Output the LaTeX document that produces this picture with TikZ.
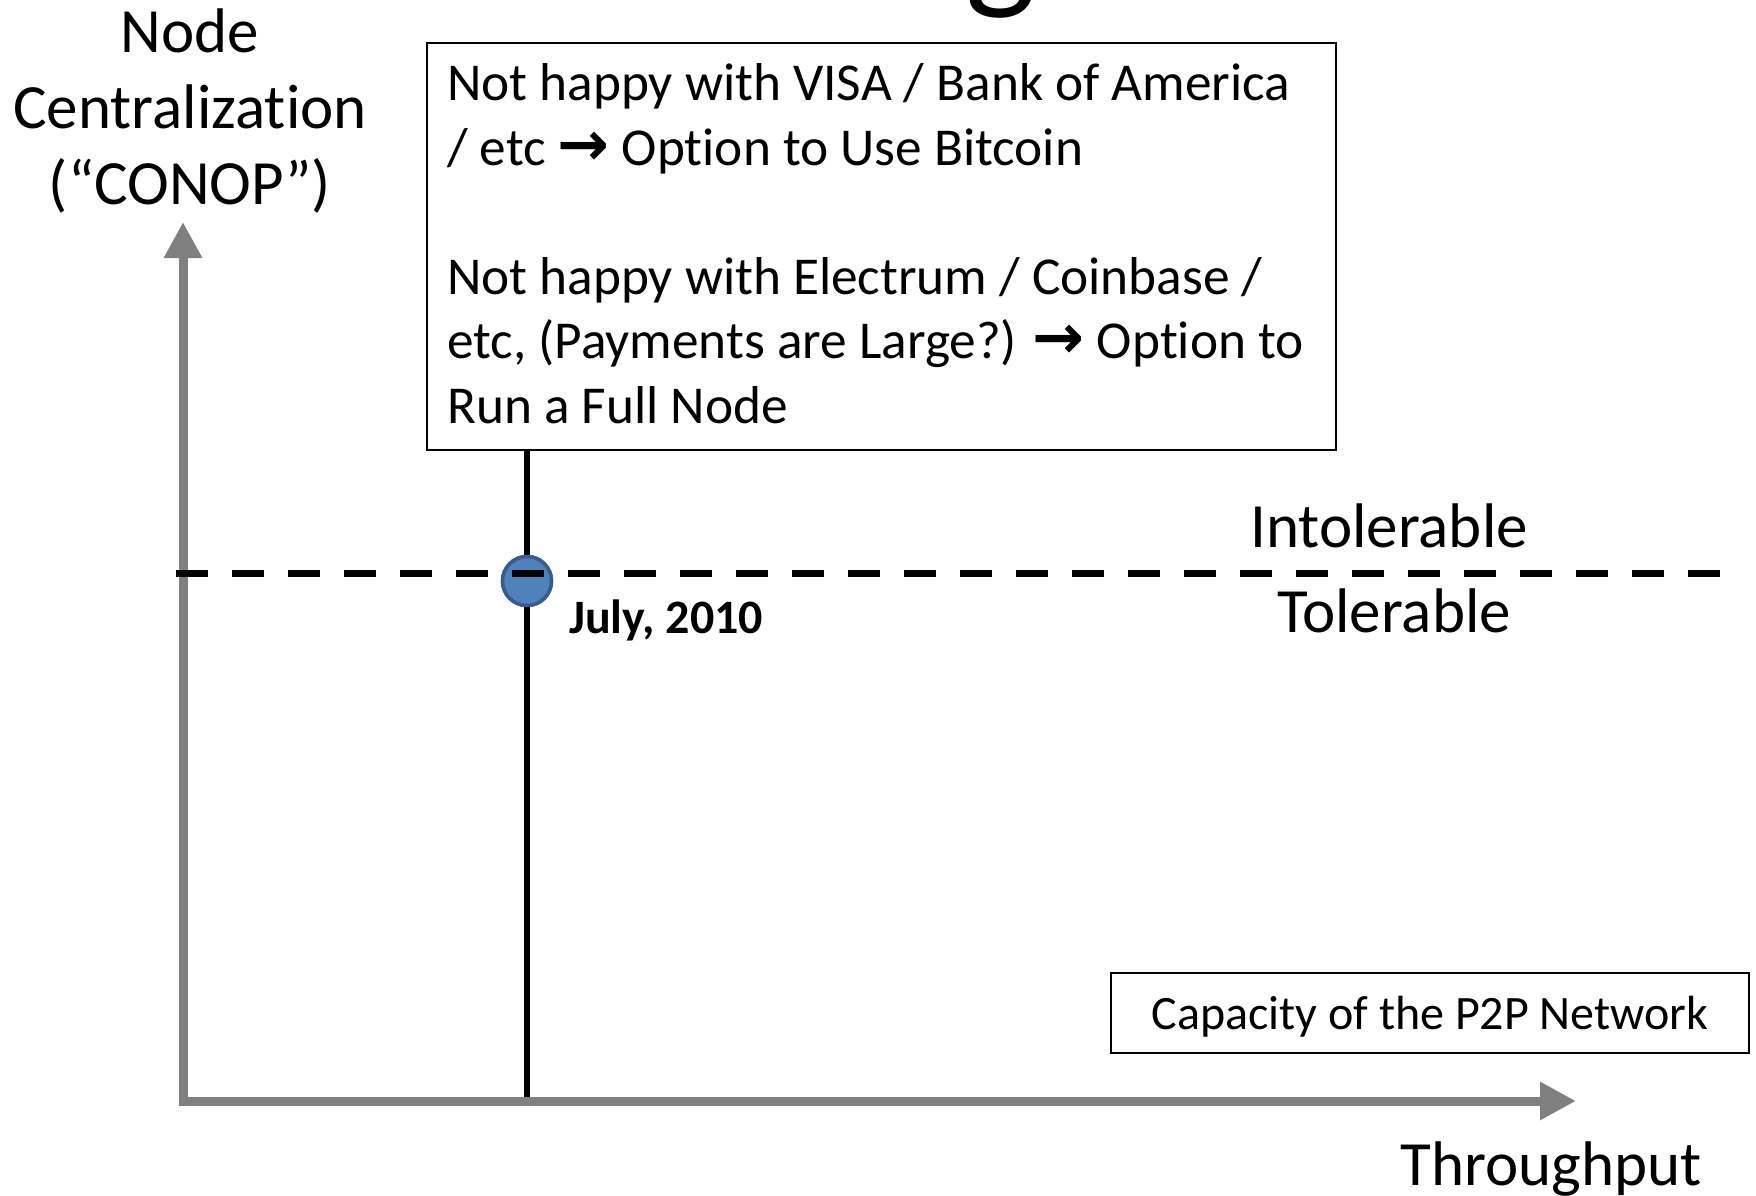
\documentclass[tikz,border=0pt]{standalone}
\usepackage{fontspec}
\setmainfont[Ligatures=NoCommon]{Carlito}
\newfontfamily\symfont{DejaVu Sans}
\usetikzlibrary{arrows.meta}
\definecolor{axisgray}{HTML}{808080}
\definecolor{dotfill}{HTML}{4F81BD}
\definecolor{dotedge}{HTML}{385D8A}
\newcommand{\rarrow}{{\symfont\bfseries\fontsize{62}{64}\selectfont →}}
\begin{document}
\begin{tikzpicture}[x=1pt,y=-1pt,
  axis/.style={draw=axisgray, line width=9pt, line cap=rect,
    -{Triangle[length=36pt,width=36pt]}},
  biglabel/.style={inner sep=0pt, font=\fontsize{63}{76}\selectfont},
  boxtext/.style={inner sep=0pt, font=\fontsize{53.3}{64.5}\selectfont},
  frame/.style={draw=black, line width=1.6pt, inner sep=0pt},
  threshold/.style={draw=black, line width=7pt, dash pattern=on 32pt off 24pt},
  marker/.style={circle, fill=dotfill, draw=dotedge, line width=3.5pt,
    minimum size=49pt, inner sep=0pt},
  period/.style={draw=black, line width=5.5pt}]

% page area
\clip (0,0) rectangle (1756,1196);
\fill[white] (0,0) rectangle (1756,1196);

% descender of the slide title above the plot
\node[anchor=base, inner sep=0pt, font=\fontsize{150}{150}\selectfont] (titleg) at (1001,-7) {g};

% description box (text anchored at the baseline of its last line)
\node[frame, anchor=north west, minimum width=909pt, minimum height=406.5pt] (info) at (426,42.5) {};
\node[boxtext, anchor=base west, align=left] (infotext) at (447,423)
  {Not happy with VISA / Bank of America\\
   / etc \rarrow{} Option to Use Bitcoin\\[64.5pt]
   Not happy with Electrum / Coinbase /\\
   etc, (Payments are Large?) \rarrow{} Option to\\
   Run a Full Node};

% axis corners and tips
\coordinate (origin) at (183,1101);
\coordinate (ytip) at (183,222);
\coordinate (xtip) at (1576,1101);

% vertical line at July 2010
\node[marker] (july) at (527,581) {};
\coordinate (vbot) at (527,1097);
\draw[period] (info.south -| july.center) -- (vbot);
\node[marker] at (july) {};

% axes
\draw[axis] (origin) -- (ytip);
\draw[axis] (origin) -- (xtip);

% tolerable / intolerable threshold
\coordinate (dl) at (176,573);
\coordinate (dr) at (1720,573);
\draw[threshold] (dl) -- (dr);

% labels
\node[biglabel, anchor=base, align=center] (ylabel) at (190,204)
  {Node\\Centralization\\(“CONOP”)};
\node[biglabel, anchor=base] (intol) at (1389,547) {Intolerable};
\node[biglabel, anchor=base] (tol) at (1394,632) {Tolerable};
\node[biglabel, anchor=base] (xlabel) at (1551,1185) {Throughput};
\node[inner sep=0pt, anchor=base west, font=\bfseries\fontsize{48}{56}\selectfont] (julylbl)
  at (569,633) {July, 2010};

% capacity box
\node[frame, minimum width=638pt, minimum height=80pt] (capacity) at (1430,1013) {};
\node[inner sep=0pt, anchor=base, font=\fontsize{48}{58}\selectfont] (captext)
  at (1430,1029) {Capacity of the P2P Network};
\end{tikzpicture}
\end{document}
